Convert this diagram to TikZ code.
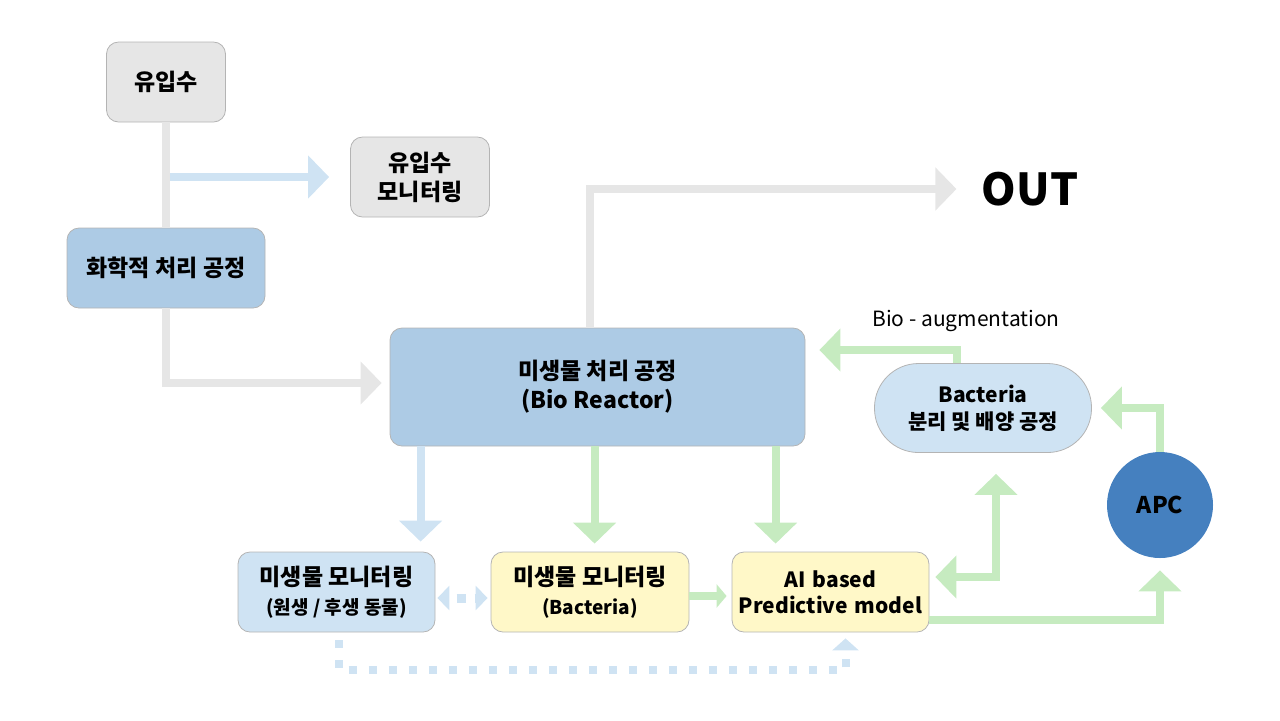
\documentclass[tikz,border=0pt]{standalone}
\usepackage{fontspec}
\setmainfont{Noto Sans CJK KR}
\usetikzlibrary{arrows.meta, calc}
\definecolor{boxgray}{HTML}{E6E6E6}
\definecolor{boxblue}{HTML}{ADCBE5}
\definecolor{boxlight}{HTML}{CFE3F3}
\definecolor{boxyellow}{HTML}{FFF8C8}
\definecolor{edgegray}{HTML}{B4B4B4}
\definecolor{flowgray}{HTML}{E6E6E6}
\definecolor{flowblue}{HTML}{CFE3F3}
\definecolor{flowgreen}{HTML}{C6EBC0}
\definecolor{apcblue}{HTML}{4580BF}
\tikzstyle{labelfont} = [font=\fontsize{11.5}{14.5}\selectfont\bfseries]
\tikzstyle{graybox} = [rectangle, rounded corners=6pt, minimum height=40pt, align=center, draw=edgegray, fill=boxgray, labelfont]
\tikzstyle{bluebox} = [rectangle, rounded corners=6pt, minimum height=40pt, align=center, draw=edgegray, fill=boxblue, labelfont]
\tikzstyle{lightbox} = [rectangle, rounded corners=6pt, minimum height=40pt, align=center, draw=edgegray, fill=boxlight, labelfont]
\tikzstyle{yellowbox} = [rectangle, rounded corners=6pt, minimum height=40pt, align=center, draw=edgegray, fill=boxyellow, labelfont]
\tikzstyle{bigtip} = [-{Triangle[length=10.5pt,width=21pt]}]
\tikzstyle{grayflow} = [draw=flowgray, line width=4pt]
\tikzstyle{blueflow} = [draw=flowblue, line width=4pt]
\tikzstyle{greenflow} = [draw=flowgreen, line width=4pt]
\tikzstyle{dotflow} = [draw=flowblue, line width=4pt, dash pattern=on 4pt off 6pt]
\newcommand{\subline}[1]{{\fontsize{9.5}{12}\selectfont #1}}

\begin{document}
\begin{tikzpicture}[x=0.5pt, y=-0.5pt]
\useasboundingbox (0,0) rectangle (1280,720);
% boxes
\node (inflow) [graybox, minimum width=59.5pt] at (166,82) {유입수};
\node (inmon) [graybox, minimum width=69.5pt] at (420,177) {유입수\\모니터링};
\node (chem) [bluebox, minimum width=99pt] at (166,268) {화학적 처리 공정};
\node (reactor) [bluebox, minimum width=207.5pt, minimum height=59pt] at (597.5,387) {미생물 처리 공정\\(Bio Reactor)};
\node (out) [inner sep=0pt, font=\fontsize{22}{26}\selectfont\bfseries] at (1030,189) {OUT};
\node (bact) [lightbox, rounded corners=22pt, minimum width=108.5pt, minimum height=44.5pt, font=\fontsize{10.5}{13.5}\selectfont\bfseries] at (983,408) {Bacteria\\분리 및 배양 공정};
\node (bioaug) [font=\fontsize{10.5}{13}\selectfont] at (966,321) {Bio - augmentation};
\node (apc) [circle, fill=apcblue, minimum size=53pt, inner sep=0pt, labelfont] at (1160,505) {APC};
\node (proto) [lightbox, minimum width=98.5pt] at (336.5,592) {미생물 모니터링\\\subline{(원생 / 후생 동물)}};
\node (bacmon) [yellowbox, minimum width=99pt] at (590,592) {미생물 모니터링\\\subline{(Bacteria)}};
\node (ai) [yellowbox, minimum width=98.5pt, text width=92pt, inner xsep=1pt, font=\fontsize{10.5}{13}\selectfont\bfseries] at (830.5,592) {AI based\\Predictive model};

% influent line
\coordinate (split) at (inflow.south |- inmon.west);
\draw [blueflow, bigtip, shorten <=2pt, shorten >=10.5pt] (split) -- (inmon.west);
\draw [grayflow] (inflow) -- (chem);
\draw [grayflow, bigtip, shorten >=4pt] (chem.south) |- ([yshift=2pt]reactor.west);
\draw [grayflow, bigtip, shorten >=12.5pt] ([xshift=-3.75pt]reactor.north) |- (out.west);

% down to the monitors
\draw [blueflow, bigtip, shorten >=5pt] ($(reactor.south west)+(31,0)$) coordinate (d1) -- (d1 |- proto.north);
\draw [greenflow, bigtip, shorten >=4pt] ($(reactor.south west)+(205,0)$) coordinate (d2) -- (d2 |- bacmon.north);
\draw [greenflow, bigtip, shorten >=4pt] ($(reactor.south west)+(386,0)$) coordinate (d3) -- (d3 |- ai.north);

% monitor links
\draw [dotflow, dash pattern=on 4.5pt off 4.5pt, dash phase=5pt, line width=4.5pt, {Triangle[length=6pt,width=12pt]}-{Triangle[length=6pt,width=12pt]}, shorten <=1pt, shorten >=1.5pt] ([yshift=-3pt]proto.east) -- ([yshift=-3pt]bacmon.west);
\draw [greenflow, -{Triangle[length=5pt,width=11.5pt]}, shorten >=2.5pt] ([yshift=-2pt]bacmon.east) -- ([yshift=-2pt]ai.west);
\draw [dotflow, -{Triangle[length=6pt,width=13pt]}, shorten <=4pt, shorten >=3pt] ([xshift=1pt]proto.south) -- ++(0,38) -| ([xshift=7.5pt]ai.south);

% control loop
\draw [greenflow, bigtip, shorten >=6pt] ([yshift=-14pt]ai.east) -| (apc.south);
\draw [greenflow, {Triangle[length=10.5pt,width=21pt]}-{Triangle[length=10.5pt,width=21pt]}, shorten <=3pt, shorten >=10.5pt] ([yshift=7.5pt]ai.east) -| ([xshift=6.5pt]bact.south);
\draw [greenflow, bigtip, shorten >=4.5pt] (apc.north) |- (bact.east);
\draw [greenflow, bigtip, shorten >=7pt] ([xshift=-13pt]bact.north) |- ([yshift=18.5pt]reactor.east);
\end{tikzpicture}
\end{document}
